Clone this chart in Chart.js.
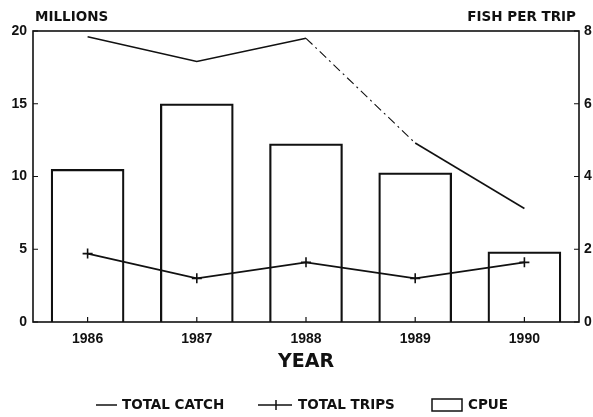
<!DOCTYPE html>
<html>
<head>
<meta charset="utf-8">
<script src="https://cdn.jsdelivr.net/npm/chart.js@4.4.1/dist/chart.umd.min.js"></script>
<style>
  html, body { margin: 0; padding: 0; background: #fff; }
  #wrap { width: 593px; height: 417px; }
</style>
</head>
<body>
<div id="wrap"><canvas id="c" width="593" height="417"></canvas></div>
<script>
const years = ['1986', '1987', '1988', '1989', '1990'];
const totalCatch = [19.6, 17.9, 19.5, 12.3, 7.8];   // millions (left axis)
const totalTrips = [4.7, 3.0, 4.1, 3.0, 4.1];       // millions (left axis)
const cpue = [4.2, 6.0, 4.9, 4.1, 1.93];            // fish per trip (right axis)
const leftTicks = [0, 5, 10, 15, 20];
const rightTicks = [0, 2, 4, 6, 8];
const leftTitle = 'MILLIONS';
const rightTitle = 'FISH PER TRIP';
const xTitle = 'YEAR';

const INK = '#111';
const tickFont = { family: '"Liberation Sans", Arial, sans-serif', size: 14, weight: 'bold' };
const labelFont = 'bold 13.5px "DejaVu Sans", sans-serif';

const framePlugin = {
  id: 'frame',
  afterDatasetsDraw(chart) {
    const { ctx, chartArea: a, scales } = chart;
    ctx.save();
    ctx.strokeStyle = INK;
    ctx.lineWidth = 1.6;
    ctx.strokeRect(a.left, a.top, a.right - a.left, a.bottom - a.top);
    ctx.lineWidth = 1.2;
    ctx.beginPath();
    leftTicks.forEach(v => {
      const y = scales.y.getPixelForValue(v);
      ctx.moveTo(a.left, y); ctx.lineTo(a.left + 5, y);
    });
    rightTicks.forEach(v => {
      const y = scales.y1.getPixelForValue(v);
      ctx.moveTo(a.right, y); ctx.lineTo(a.right - 5, y);
    });
    years.forEach((_, i) => {
      const x = scales.x.getPixelForValue(i);
      ctx.moveTo(x, a.bottom); ctx.lineTo(x, a.bottom - 5);
    });
    ctx.stroke();

    // axis titles
    ctx.fillStyle = INK;
    ctx.font = labelFont;
    ctx.textBaseline = 'middle';
    ctx.textAlign = 'left';
    ctx.fillText(leftTitle, a.left + 2, 17);
    ctx.textAlign = 'right';
    ctx.fillText(rightTitle, a.right - 3, 17);
    ctx.textAlign = 'center';
    ctx.font = 'bold 19px "DejaVu Sans", sans-serif';
    ctx.fillText(xTitle, (a.left + a.right) / 2, 362);

    // legend
    const ds = chart.data.datasets;
    const ly = 405;
    ctx.font = labelFont;
    ctx.textAlign = 'left';
    ctx.lineWidth = 1.5;
    // total catch
    ctx.beginPath(); ctx.moveTo(96, ly); ctx.lineTo(117, ly); ctx.stroke();
    ctx.fillText(ds[0].label, 122, ly);
    // total trips
    ctx.beginPath(); ctx.moveTo(258, ly); ctx.lineTo(292, ly);
    ctx.moveTo(276, ly - 5); ctx.lineTo(276, ly + 5); ctx.stroke();
    ctx.fillText(ds[1].label, 298, ly);
    // cpue
    ctx.strokeRect(432, ly - 6, 30, 12);
    ctx.fillText(ds[2].label, 468, ly);
    ctx.restore();
  }
};

new Chart(document.getElementById('c'), {
  type: 'bar',
  data: {
    labels: years,
    datasets: [
      {
        type: 'line', label: 'TOTAL CATCH', data: totalCatch, yAxisID: 'y',
        borderColor: INK, borderWidth: 1.6, pointRadius: 0, tension: 0, order: 1,
        segment: { borderDash: c => c.p0DataIndex === 2 ? [9, 4, 2, 4] : undefined,
                   borderWidth: c => c.p0DataIndex === 2 ? 1.1 : 1.6 }
      },
      {
        type: 'line', label: 'TOTAL TRIPS', data: totalTrips, yAxisID: 'y',
        borderColor: INK, borderWidth: 1.8, pointStyle: 'cross', pointRadius: 5,
        pointBorderWidth: 1.6, pointBorderColor: INK, tension: 0, order: 1
      },
      {
        type: 'bar', label: 'CPUE', data: cpue, yAxisID: 'y1',
        backgroundColor: 'rgba(255,255,255,0)', borderColor: INK, borderWidth: 1.6,
        borderSkipped: 'bottom', barThickness: 73, order: 2
      }
    ]
  },
  options: {
    responsive: false,
    animation: false,
    layout: { padding: { top: 31, left: 0, right: 0, bottom: 0 } },
    plugins: { legend: { display: false }, tooltip: { enabled: false }, title: { display: false } },
    scales: {
      x: {
        type: 'category', offset: true,
        grid: { display: false, drawTicks: false }, border: { display: false },
        ticks: { color: INK, font: tickFont, padding: 9 },
        afterFit(s) { s.height = 95; }
      },
      y: {
        position: 'left', min: 0, max: 20,
        grid: { display: false, drawTicks: false }, border: { display: false },
        ticks: { color: INK, font: tickFont, padding: 6, stepSize: 5,
                 callback: v => leftTicks.includes(v) ? String(v) : '' },
        afterFit(s) { s.width = 33; }
      },
      y1: {
        position: 'right', min: 0, max: 8,
        grid: { display: false, drawTicks: false }, border: { display: false },
        ticks: { color: INK, font: tickFont, padding: 5, stepSize: 2,
                 callback: v => rightTicks.includes(v) ? String(v) : '' },
        afterFit(s) { s.width = 14; }
      }
    }
  },
  plugins: [framePlugin]
});
</script>
</body>
</html>
